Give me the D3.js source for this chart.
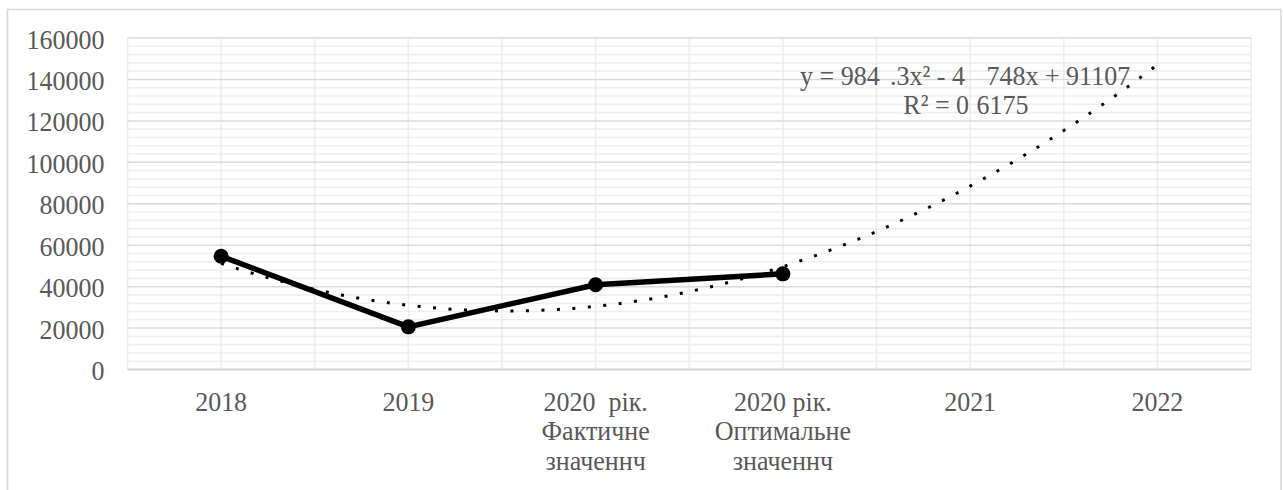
<!DOCTYPE html>
<html>
<head>
<meta charset="utf-8">
<script src="https://cdn.jsdelivr.net/npm/d3@7"></script>
<style>
  html, body { margin: 0; padding: 0; background: #fff; }
  svg { display: block; }
</style>
</head>
<body>
<svg id="chart" width="1283" height="490"></svg>
<script>
// Category labels (one entry per line of each label)
const categoryLabels = [
  ["2018"],
  ["2019"],
  ["2020  рік.", "Фактичне", "значеннч"],
  ["2020 рік.", "Оптимальне", "значеннч"],
  ["2021"],
  ["2022"]
];
// Observed values for the first four categories
const actualValues = [54675, 20579, 40884, 46169];
// Y axis tick labels
const yTicks = [0, 20000, 40000, 60000, 80000, 100000, 120000, 140000, 160000];
// Trendline label, as printed (split into its visible pieces)
const trendLine1 = ["y = 984", ".3x² - 4", "748x + 91107"];
const trendLine2 = ["R² = 0", "6175"];

const FONT = "Liberation Serif";
const TEXT_COLOR = "#595959";
const svg = d3.select("#chart");
const plot = { left: 127.5, right: 1251, top: 38, bottom: 369.5 };
const textScaleY = 1.08;
const fontSize = 26;

// Outer chart frame
svg.append("rect")
  .attr("x", 7.5).attr("y", 9.5)
  .attr("width", 1273.5).attr("height", 495)
  .attr("fill", "#fff").attr("stroke", "#d9d9d9").attr("stroke-width", 1.6);

// Scales: category index 1..6 on x, values on y
const x = d3.scaleLinear().domain([0.5, categoryLabels.length + 0.5]).range([plot.left, plot.right]);
const y = d3.scaleLinear().domain([0, 160000]).range([plot.bottom, plot.top]);

const grid = svg.append("g");
// Minor horizontal gridlines
grid.selectAll("line.minor")
  .data(d3.range(0, 160001, 4000).filter(v => v % 20000 !== 0))
  .join("line")
  .attr("x1", plot.left).attr("x2", plot.right)
  .attr("y1", d => y(d)).attr("y2", d => y(d))
  .attr("stroke", "#efefef").attr("stroke-width", 1.6);
// Vertical gridlines at every half category
grid.selectAll("line.vert")
  .data(d3.range(0.5, categoryLabels.length + 0.51, 0.5))
  .join("line")
  .attr("x1", d => x(d)).attr("x2", d => x(d))
  .attr("y1", plot.top).attr("y2", plot.bottom)
  .attr("stroke", "#ececec").attr("stroke-width", 1.6);
// Major horizontal gridlines
grid.selectAll("line.major")
  .data(yTicks.filter(v => v > 0))
  .join("line")
  .attr("x1", plot.left).attr("x2", plot.right)
  .attr("y1", d => y(d)).attr("y2", d => y(d))
  .attr("stroke", "#dadada").attr("stroke-width", 1.5);
// Category axis line
svg.append("line")
  .attr("x1", plot.left).attr("x2", plot.right)
  .attr("y1", y(0)).attr("y2", y(0))
  .attr("stroke", "#d4d4d4").attr("stroke-width", 2);

// Y axis labels
const yAxis = svg.append("g")
  .attr("transform", `translate(${plot.left},0)`)
  .call(d3.axisLeft(y).tickValues(yTicks).tickSize(0).tickPadding(23).tickFormat(d3.format("d")));
yAxis.attr("font-family", FONT).attr("font-size", fontSize);
yAxis.select(".domain").remove();
yAxis.selectAll("text")
  .attr("font-family", FONT)
  .attr("font-size", fontSize)
  .attr("fill", TEXT_COLOR)
  .attr("dy", null)
  .attr("y", 10 / textScaleY)
  .attr("transform", `scale(1,${textScaleY})`);

// Category labels
const xLabels = svg.append("g");
categoryLabels.forEach((lines, i) => {
  const g = xLabels.append("g").attr("transform", `translate(${x(i + 1)},410.5)`);
  const t = g.append("text")
    .attr("text-anchor", "middle")
    .attr("font-family", FONT)
    .attr("font-size", fontSize)
    .attr("fill", TEXT_COLOR)
    .attr("xml:space", "preserve")
    .style("white-space", "pre")
    .attr("transform", `scale(1,${textScaleY})`);
  lines.forEach((ln, k) => {
    t.append("tspan").attr("x", 0).attr("y", k * 29.6 / textScaleY).text(ln);
  });
});

// Quadratic least-squares trend fitted to the observed points
function quadFit(xs, ys) {
  const s = p => d3.sum(xs, v => Math.pow(v, p));
  const sy = p => d3.sum(xs, (v, i) => Math.pow(v, p) * ys[i]);
  const A = [[s(4), s(3), s(2)], [s(3), s(2), s(1)], [s(2), s(1), xs.length]];
  const B = [sy(2), sy(1), sy(0)];
  for (let c = 0; c < 3; c++) {
    for (let r = c + 1; r < 3; r++) {
      const f = A[r][c] / A[c][c];
      for (let k = c; k < 3; k++) A[r][k] -= f * A[c][k];
      B[r] -= f * B[c];
    }
  }
  const sol = [0, 0, 0];
  for (let r = 2; r >= 0; r--) {
    let acc = B[r];
    for (let k = r + 1; k < 3; k++) acc -= A[r][k] * sol[k];
    sol[r] = acc / A[r][r];
  }
  return sol; // [a, b, c]
}
const xs = actualValues.map((_, i) => i + 1);
const [qa, qb, qc] = quadFit(xs, actualValues);
const trendPts = d3.range(1, categoryLabels.length + 0.001, 0.05).map(t => [t, qa * t * t + qb * t + qc]);

// Trendline (dotted, extended two periods forward)
svg.append("path")
  .datum(trendPts)
  .attr("fill", "none")
  .attr("stroke", "#000")
  .attr("stroke-width", 3)
  .attr("stroke-dasharray", "3 12.5")
  .attr("d", d3.line().x(d => x(d[0])).y(d => y(d[1])));

// Actual series line and markers
const series = actualValues.map((v, i) => [i + 1, v]);
svg.append("path")
  .datum(series)
  .attr("fill", "none")
  .attr("stroke", "#000")
  .attr("stroke-width", 5.5)
  .attr("stroke-linejoin", "round")
  .attr("d", d3.line().x(d => x(d[0])).y(d => y(d[1])));
svg.selectAll("circle.pt")
  .data(series)
  .join("circle")
  .attr("cx", d => x(d[0])).attr("cy", d => y(d[1]))
  .attr("r", 7.5).attr("fill", "#000");

// Trendline equation label
function labelPieces(pieces, xsPos, baseY) {
  pieces.forEach((p, i) => {
    svg.append("g").attr("transform", `translate(${xsPos[i]},${baseY})`)
      .append("text")
      .attr("font-family", FONT)
      .attr("font-size", fontSize)
      .attr("fill", TEXT_COLOR)
      .attr("transform", `scale(1,${textScaleY})`)
      .text(p);
  });
}
labelPieces(trendLine1, [800, 890, 986.5], 85);
labelPieces(trendLine2, [903.3, 976.5], 114);
</script>
</body>
</html>
